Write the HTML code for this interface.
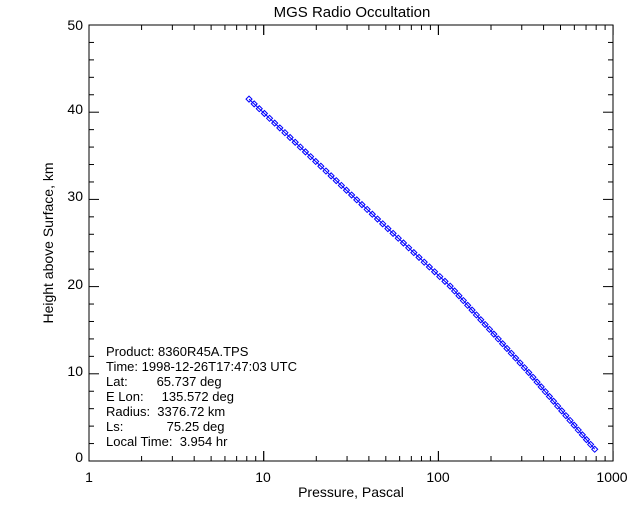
<!DOCTYPE html>
<html><head><meta charset="utf-8"><style>
body{margin:0;background:#fff;}
svg text{font-family:"Liberation Sans",sans-serif;fill:#000;}
.pre{white-space:pre;}
</style></head><body>
<svg id="s" width="640" height="512" xmlns="http://www.w3.org/2000/svg">
<rect width="640" height="512" fill="#fff"/>
<rect x="89" y="25" width="524" height="436" fill="none" stroke="#000" stroke-width="1"/>
<g id="ticks" stroke="#000" stroke-width="1"></g>
<g id="data"></g>
<text x="352" y="17" font-size="15" text-anchor="middle">MGS Radio Occultation</text>
<g font-size="14" text-anchor="end">
<text x="83" y="462">0</text><text x="83" y="376">10</text><text x="83" y="289">20</text>
<text x="83" y="201">30</text><text x="83" y="114">40</text><text x="83" y="30">50</text>
</g>
<g font-size="14" text-anchor="middle">
<text x="89" y="482">1</text><text x="263" y="482">10</text><text x="438" y="482">100</text><text x="612" y="482">1000</text>
</g>
<text x="351" y="497" font-size="14" text-anchor="middle">Pressure, Pascal</text>
<text transform="translate(53,243) rotate(-90)" font-size="14" text-anchor="middle">Height above Surface, km</text>
<g font-size="13" class="pre">
<text class="pre" x="106" y="356">Product: 8360R45A.TPS</text>
<text class="pre" x="106" y="371">Time: 1998-12-26T17:47:03 UTC</text>
<text class="pre" x="106" y="386">Lat:        65.737 deg</text>
<text class="pre" x="106" y="401">E Lon:     135.572 deg</text>
<text class="pre" x="106" y="416">Radius:  3376.72 km</text>
<text class="pre" x="106" y="431">Ls:            75.25 deg</text>
<text class="pre" x="106" y="446">Local Time:  3.954 hr</text>
</g>
</svg>
<script>
var ns="http://www.w3.org/2000/svg",t=document.getElementById("ticks"),d=document.getElementById("data");
function L(g,x1,y1,x2,y2){var l=document.createElementNS(ns,"line");l.setAttribute("x1",x1);l.setAttribute("y1",y1);l.setAttribute("x2",x2);l.setAttribute("y2",y2);g.appendChild(l);}
var X0=89,DX=174.7,Y0=461,DY=8.72;
for(var h=0;h<=50;h+=2){var y=Y0-h*DY,len=(h%10==0)?10:5;L(t,89,y,89+len,y);L(t,613,y,613-len,y);}
for(var e=0;e<3;e++)for(var m=1;m<=10;m++){var x=X0+(e+Math.log10(m))*DX,len=(m==1||m==10)?10:5;L(t,x,461,x,461-len);L(t,x,25,x,25+len);}
var P=[[41.5,0.916],[30,1.53],[20,2.07],[10,2.524],[0.9,2.914]];
function lp(h){for(var i=0;i<P.length-1;i++){if(h<=P[i][0]&&h>=P[i+1][0]){var f=(P[i][0]-h)/(P[i][0]-P[i+1][0]);return P[i][1]+f*(P[i+1][1]-P[i][1]);}}return P[P.length-1][1];}
var pts=[];for(var h=41.5;h>=0.9;h-=0.55){pts.push([X0+lp(h)*DX,Y0-h*DY]);}
var pl=document.createElementNS(ns,"polyline");pl.setAttribute("points",pts.map(function(p){return p.join(",")}).join(" "));pl.setAttribute("fill","none");pl.setAttribute("stroke","#00f");d.appendChild(pl);
pts.forEach(function(p){var q=document.createElementNS(ns,"polygon");var x=p[0],y=p[1],r=3;q.setAttribute("points",(x-r)+","+y+" "+x+","+(y-r)+" "+(x+r)+","+y+" "+x+","+(y+r));q.setAttribute("fill","none");q.setAttribute("stroke","#00f");d.appendChild(q);});
</script>
</body></html>
